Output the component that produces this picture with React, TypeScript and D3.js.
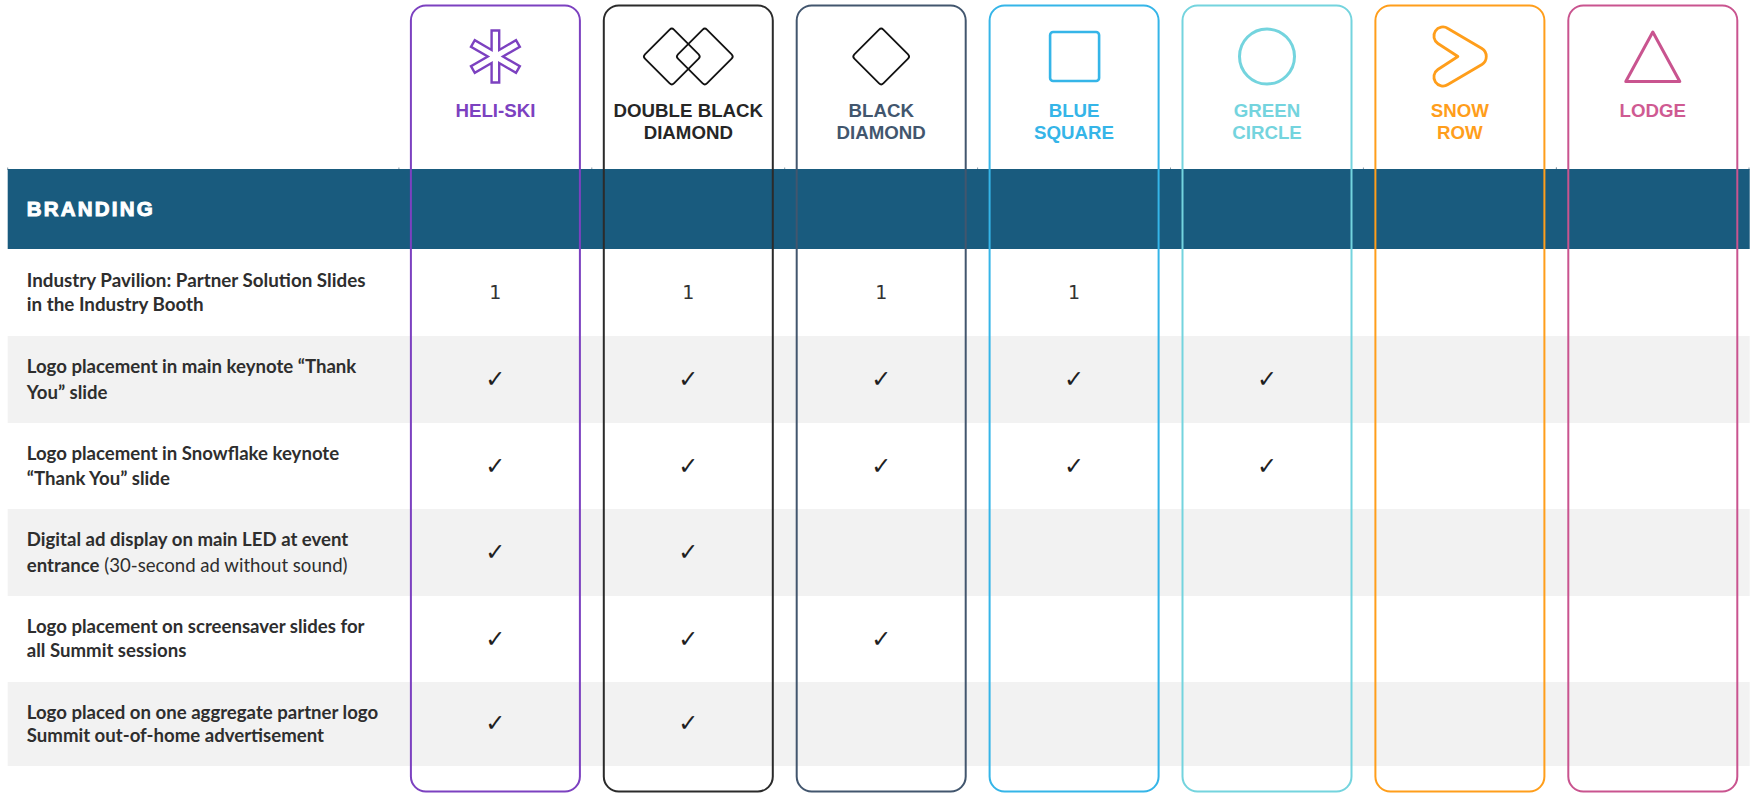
import React from 'react';
import * as d3 from 'd3';

const tiers = ['HELI-SKI', 'DOUBLE BLACK DIAMOND', 'BLACK DIAMOND', 'BLUE SQUARE', 'GREEN CIRCLE', 'SNOW ROW', 'LODGE'];
const tierLines = [['HELI-SKI'], ['DOUBLE BLACK', 'DIAMOND'], ['BLACK', 'DIAMOND'], ['BLUE', 'SQUARE'], ['GREEN', 'CIRCLE'], ['SNOW', 'ROW'], ['LODGE']];
const tierColors = ['#7c41c0', '#2b2b2b', '#42566e', '#35b5e8', '#74d4de', '#ff9e1b', '#c9548f'];
const labelColors = ['#7c41c0', '#262626', '#42566e', '#35b5e8', '#74d4de', '#ff9e1b', '#cf5a92'];

const sectionTitle = 'BRANDING';
const rowLabels = [
  [['Industry Pavilion: Partner Solution Slides'], ['in the Industry Booth']],
  [['Logo placement in main keynote “Thank'], ['You” slide']],
  [['Logo placement in Snowflake keynote'], ['“Thank You” slide']],
  [['Digital ad display on main LED at event'], ['entrance', ' (30-second ad without sound)']],
  [['Logo placement on screensaver slides for'], ['all Summit sessions']],
  [['Logo placed on one aggregate partner logo'], ['Summit out-of-home advertisement']],
];
const CHECK = '✓';
const cellValues = [
  ['1', '1', '1', '1', '', '', ''],
  [CHECK, CHECK, CHECK, CHECK, CHECK, '', ''],
  [CHECK, CHECK, CHECK, CHECK, CHECK, '', ''],
  [CHECK, CHECK, '', '', '', '', ''],
  [CHECK, CHECK, CHECK, '', '', '', ''],
  [CHECK, CHECK, '', '', '', '', ''],
];

// layout
const rowEdges = [249, 336, 423, 509, 596, 682, 766];
const lineBaselines = [[286.5, 311], [373, 398.5], [460, 485], [546, 572], [633, 657], [719, 742]];
const rowFontSizes = [18.8, 18.6, 18.6, 18.6, 18.6, 18.6];
const cellBaselines = [299, 387, 474, 560, 647, 731];

const x = d3.scalePoint<string>().domain(tiers).range([495.4, 1652.8]);
const BOX_W = 169;

function asteriskPath(R: number, w: number) {
  const pts: [number, number][] = [];
  for (let k = 0; k < 6; k++) {
    const a = (k * Math.PI) / 3 - Math.PI / 2;
    const ca = Math.cos(a), sa = Math.sin(a);
    pts.push([R * ca + w * sa, R * sa - w * ca]);
    pts.push([R * ca - w * sa, R * sa + w * ca]);
    const b = a + Math.PI / 6;
    pts.push([2 * w * Math.cos(b), 2 * w * Math.sin(b)]);
  }
  return d3.line()(pts) + 'Z';
}

const Diamond = ({ cx, color }: { cx: number; color: string }) => (
  <rect x={-20.5} y={-20.5} width={41} height={41} rx={3} fill="none" stroke={color} strokeWidth={1.8}
    transform={`translate(${cx},0) rotate(45)`} />
);

function TierIcon({ index, color }: { index: number; color: string }) {
  switch (index) {
    case 0:
      return <path d={asteriskPath(26, 3.8)} fill="none" stroke={color} strokeWidth={2.4} strokeLinejoin="miter" />;
    case 1:
      return <g><Diamond cx={-16.5} color="#111" /><Diamond cx={16.5} color="#111" /></g>;
    case 2:
      return <Diamond cx={0} color="#111" />;
    case 3:
      return <rect x={-24} y={-24.5} width={49} height={49} rx={3} fill="none" stroke={color} strokeWidth={2.6} />;
    case 4:
      return <ellipse rx={27.5} ry={27.5} fill="none" stroke={color} strokeWidth={3} />;
    case 5:
      return <path d="M-2,0 L-22,-13 A9,9 0 0 1 -12,-28 L22,-8 A9.5,9.5 0 0 1 22,8 L-12,28 A9,9 0 0 1 -22,13 Z"
        fill="none" stroke={color} strokeWidth={2.8} strokeLinejoin="round" />;
    default:
      return <path d="M0,-24.5 L27,25 L-27,25 Z" fill="none" stroke={color} strokeWidth={3} strokeLinejoin="round" />;
  }
}

export default function App() {
  const tickXs = [7.7, ...tiers.map((t) => x(t)! - 96.5), 1556.5, 1749];
  return (
    <svg width={1753} height={793} style={{ position: 'absolute', left: 0, top: 0, background: '#fff' }}>
      {/* section band */}
      {tickXs.map((t, i) => <line key={i} x1={t} x2={t} y1={167.5} y2={170} stroke="#8a9aa5" strokeWidth={1} />)}
      <rect x={7.7} y={169} width={1742} height={80} fill="#195b7e" />
      <text x={26.8} y={216} fill="#fff" stroke="#fff" strokeWidth={1} fontFamily="Liberation Sans" fontWeight={700} fontSize={20.5} letterSpacing={2.2}>{sectionTitle}</text>

      {/* striped rows */}
      {rowLabels.map((lines, r) => (
        <g key={r}>
          {r % 2 === 1 && <rect x={7.7} y={rowEdges[r]} width={1742} height={rowEdges[r + 1] - rowEdges[r]} fill="#f2f2f2" />}
          {lines.map((parts, l) => (
            <text key={l} x={26.8} y={lineBaselines[r][l]} fontFamily="Lato" fontSize={rowFontSizes[r]} fill="#2e2e2e" fontWeight={700}>
              {parts[0]}
              {parts[1] && <tspan fontWeight={400}>{parts[1]}</tspan>}
            </text>
          ))}
        </g>
      ))}

      {/* cell values */}
      {cellValues.map((row, r) => row.map((v, c) => v && (
        <text key={`${r}-${c}`} x={x(tiers[c])} y={cellBaselines[r]} textAnchor="middle"
          fontFamily="DejaVu Sans" fontSize={v === CHECK ? 24 : 19} fill={v === CHECK ? '#1f1f1f' : '#333'}>{v}</text>
      )))}

      {/* tier columns */}
      {tiers.map((t, i) => {
        const cx = x(t)!;
        return (
          <g key={t}>
            <rect x={cx - BOX_W / 2} y={5.5} width={BOX_W} height={786} rx={15} fill="none" stroke={tierColors[i]} strokeWidth={2} />
            <g transform={`translate(${cx},56.5)`}><TierIcon index={i} color={tierColors[i]} /></g>
            {tierLines[i].map((line, l) => (
              <text key={l} x={cx} y={117 + l * 22} textAnchor="middle" fontFamily="Liberation Sans" fontWeight={700} fontSize={18.7} fill={labelColors[i]}>{line}</text>
            ))}
          </g>
        );
      })}
    </svg>
  );
}
